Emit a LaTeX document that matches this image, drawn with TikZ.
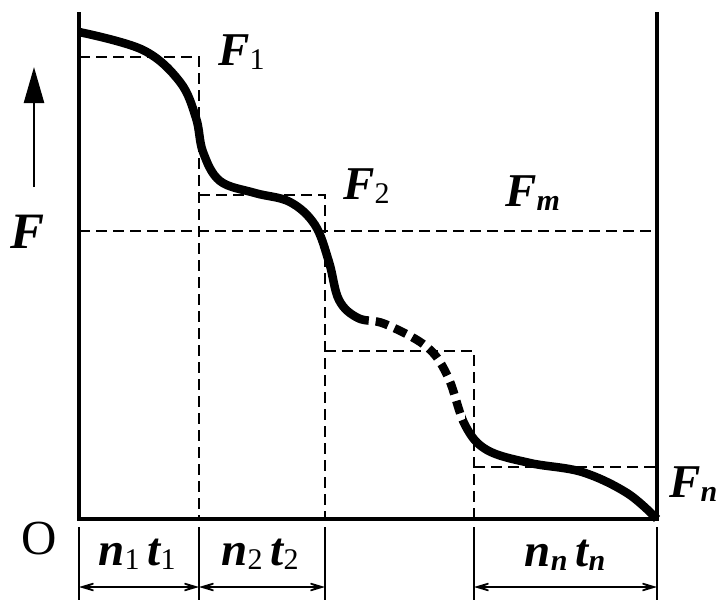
\documentclass[tikz,border=0pt]{standalone}
\usepackage{fontspec}
\setmainfont{Liberation Serif}
\usetikzlibrary{arrows.meta}
\newcommand\bi[1]{{\bfseries\itshape #1}}
\newcommand\sbs[1]{\raisebox{-4pt}{\fontsize{30}{30}\selectfont #1}}
\begin{document}
\begin{tikzpicture}[x=1pt,y=-1pt,
  axis/.style={line width=4pt, line join=miter},
  thindash/.style={line width=2pt, dash pattern=on 11pt off 6pt},
  curve/.style={line width=8.5pt},
  dim/.style={line width=1.6pt},
  dimarrow/.style={line width=1.6pt,
    {Stealth[length=30pt,width=18pt,inset=22pt]}-{Stealth[length=30pt,width=18pt,inset=22pt]}},
  lbl/.style={inner sep=0pt, anchor=base west, font=\fontsize{47}{47}\selectfont},
  dlbl/.style={inner sep=0pt, anchor=base, font=\fontsize{47}{47}\selectfont}]
\useasboundingbox (0,0) rectangle (719,600);

% axes and wall
\coordinate (O) at (79,519);
\coordinate (Ytop) at (79,12);
\coordinate (R) at (657,519);
\coordinate (Rtop) at (657,12);
\draw[axis] (Ytop) -- (O) -- (R) -- (Rtop);

% dashed step lines
\coordinate (h1a) at (79,57);   \coordinate (h1b) at (199,519);
\coordinate (h2a) at (199,195); \coordinate (h2b) at (325,519);
\coordinate (hma) at (79,231);  \coordinate (hmb) at (657,231);
\coordinate (h3a) at (325,351); \coordinate (h3b) at (474,519);
\coordinate (hna) at (474,467); \coordinate (hnb) at (657,467);
\draw[thindash] (h1a) -| (h1b);
\draw[thindash] (h2a) -| (h2b);
\draw[thindash] (hma) -- (hmb);
\draw[thindash] (h3a) -| (h3b);
\draw[thindash] (hna) -- (hnb);

% load curve
\def\curvepath{plot[smooth,tension=0.6] coordinates {
 (79,32) (143,50) (180,82) (196,118) (203,152) (220,181) (255,193)
 (290,202) (315,225) (329,262) (339,300) (358,318) (385,324) (427,347)
 (448,377) (465,425) (487,450) (530,463) (582,472) (627,493) (657,519)}}
\begin{scope}
  \clip (0,0) rectangle (368,600);
  \draw[curve] \curvepath;
\end{scope}
\begin{scope}
  \clip (465,0) rectangle (719,600);
  \draw[curve] \curvepath;
\end{scope}
\begin{scope}
  \clip (368,0) rectangle (465,600);
  \draw[curve, dash pattern=on 13pt off 7pt, dash phase=4pt] \curvepath;
\end{scope}

% force arrow
\coordinate (Fa) at (34,187);
\coordinate (Fb) at (34,67);
\draw[line width=2.5pt, -{Triangle[length=36pt,width=20pt]}] (Fa) -- (Fb);

% labels
\node[lbl] (F1) at (218,65) {\bi{F}\sbs{1}};
\node[lbl] (F2) at (343,199) {\bi{F}\sbs{2}};
\node[lbl] (Fm) at (505,206) {\bi{F}\sbs{\bi{m}}};
\node[lbl] (Fn) at (669,497) {\bi{F}\sbs{\bi{n}}};
\node[lbl, font=\fontsize{51}{51}\selectfont] (F) at (10,248) {\bi{F}};
\node[lbl, font=\fontsize{49}{49}\selectfont] (Olbl) at (21,554) {O};

% dimension ticks
\foreach \x/\n in {79/a,199/b,325/c,474/d,657/e}{
  \coordinate (t\n) at (\x,527);
  \coordinate (u\n) at (\x,600);
  \coordinate (d\n) at (\x,587);
  \draw[dim] (t\n) -- (u\n);
}
\draw[dimarrow] (da) -- (db);
\draw[dimarrow] (db) -- (dc);
\draw[dimarrow] (dd) -- (de);

\node[dlbl] (L1) at (137,565) {\bi{n}\sbs{1}\,\bi{t}\sbs{1}};
\node[dlbl] (L2) at (260,565) {\bi{n}\sbs{2}\,\bi{t}\sbs{2}};
\node[dlbl] (Ln) at (565,566) {\bi{n}\sbs{\bi{n}}\,\bi{t}\sbs{\bi{n}}};
\end{tikzpicture}
\end{document}
